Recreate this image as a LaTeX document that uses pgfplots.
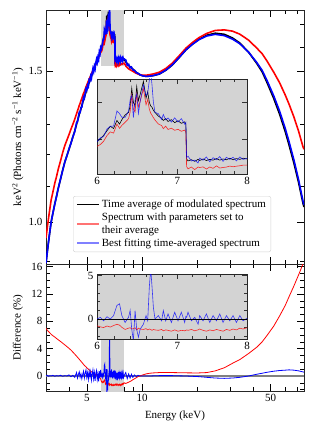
\documentclass[border=0pt]{standalone}
\usepackage{fontspec}
\setmainfont{Liberation Serif}
\usepackage{pgfplots}
\usepackage{pgfplotstable}
\pgfplotsset{compat=1.18}
\pgfplotsset{legend image code/.code={\draw[#1] (0pt,0pt) -- (22pt,0pt);}}
\definecolor{lgray}{HTML}{D3D3D3}

\pgfplotstableread{
E k dr db
3.00 0.895 7.0 0.0
3.05 0.923 6.7 0.1
3.10 0.950 6.5 -0.05
3.15 0.975 6.3 0.05
3.20 1.000 6.1 0.0
3.27 1.023 5.9 0.1
3.35 1.050 5.7 -0.05
3.42 1.070 5.5 0.05
3.50 1.095 5.3 0.0
3.60 1.122 5.05 0.1
3.70 1.150 4.8 -0.05
3.80 1.175 4.55 0.05
3.90 1.195 4.3 0.0
4.00 1.215 4.05 0.15
4.10 1.236 3.8 -0.1
4.20 1.256 3.5 0.1
4.30 1.277 3.2 -0.2
4.40 1.300 2.9 0.5
4.45 1.312 2.75 -0.3
4.50 1.323 2.6 0.2
4.55 1.335 2.45 0.6
4.60 1.345 2.3 -0.2
4.65 1.356 2.15 0.3
4.70 1.367 2.0 -0.4
4.75 1.378 1.85 0.2
4.80 1.389 1.7 0.7
4.85 1.398 1.55 -0.3
4.90 1.408 1.45 0.4
4.95 1.418 1.35 0.9
5.00 1.428 1.2 -0.2
5.05 1.437 1.1 0.5
5.10 1.446 1.0 -0.5
5.15 1.455 0.9 0.7
5.20 1.463 0.8 -0.1
5.25 1.471 0.7 0.6
5.30 1.480 0.62 -0.6
5.35 1.488 0.55 0.3
5.40 1.496 0.47 0.9
5.45 1.504 0.4 -0.4
5.50 1.512 0.33 0.5
5.55 1.520 0.25 -0.7
5.60 1.528 0.18 0.4
5.65 1.536 0.12 0.8
5.70 1.544 0.05 -0.5
5.75 1.552 -0.02 0.3
5.80 1.560 -0.1 -0.8
5.85 1.568 -0.2 0.7
5.90 1.576 -0.3 -0.3
5.95 1.585 -0.45 0.9
6.000 1.593 -0.78 0.0
6.039 1.600 -0.90 0.2
6.077 1.610 -0.98 -0.2
6.116 1.622 -0.80 0.27
6.155 1.634 -0.92 0.0
6.194 1.628 -0.75 0.4
6.234 1.650 -0.60 1.57
6.265 1.640 -0.70 1.76
6.293 1.652 -0.95 0.4
6.333 1.665 -1.20 -0.39
6.374 1.672 -1.05 0.2
6.394 1.690 -1.00 1.0
6.414 1.740 -1.15 -1.18
6.434 1.700 -1.10 -2.5
6.455 1.690 -1.00 0.98
6.475 1.745 -1.25 -1.2
6.496 1.705 -1.05 -2.1
6.517 1.722 -1.15 -1.18
6.559 1.760 -1.20 -0.59
6.592 1.712 -1.10 0.4
6.613 1.730 -1.25 -0.2
6.634 1.700 -1.15 3.73
6.651 1.690 -1.20 5.8
6.668 1.686 -1.30 3.73
6.685 1.678 -1.20 1.37
6.706 1.672 -1.25 0.0
6.749 1.662 -1.30 0.4
6.792 1.656 -1.20 -0.2
6.814 1.650 -1.35 0.98
6.845 1.655 -1.25 -0.2
6.876 1.647 -1.30 0.59
6.920 1.652 -1.40 -0.39
6.964 1.644 -1.25 0.79
7.009 1.649 -1.40 -0.2
7.054 1.642 -1.30 0.79
7.099 1.646 -1.35 -0.39
7.115 1.640 -1.30 0.3
7.125 1.548 -1.25 0.2
7.145 1.543 -1.30 0.79
7.191 1.546 -1.20 -0.2
7.237 1.542 -1.35 0.2
7.284 1.547 -1.25 -0.59
7.307 1.544 -1.15 0.4
7.354 1.548 -1.30 -0.2
7.401 1.544 -1.40 0.59
7.449 1.547 -1.25 -0.39
7.497 1.545 -1.35 0.4
7.545 1.549 -1.20 -0.2
7.594 1.545 -1.30 0.59
7.642 1.548 -1.40 -0.39
7.691 1.546 -1.20 0.4
7.741 1.550 -1.30 -0.2
7.790 1.546 -1.15 0.4
7.840 1.549 -1.25 -0.39
7.891 1.547 -1.05 0.4
7.941 1.550 -1.15 -0.2
8.000 1.548 -1.00 0.1
8.15 1.538 -1.1 0.5
8.30 1.530 -1.0 -0.4
8.45 1.523 -0.9 0.3
8.60 1.518 -0.8 -0.3
8.75 1.513 -0.7 0.25
8.90 1.508 -0.55 -0.2
9.10 1.501 -0.4 0.15
9.30 1.495 -0.25 -0.1
9.50 1.490 -0.1 0.1
9.70 1.486 0.0 0.0
10.0 1.482 0.12 0.0
10.5 1.479 0.3 0.0
11.0 1.480 0.4 0.0
11.5 1.482 0.45 0.02
12.4 1.488 0.5 0.05
13.5 1.504 0.5 0.05
14.6 1.525 0.5 0.05
16.0 1.558 0.48 0.02
17.3 1.588 0.46 0.0
18.8 1.613 0.45 -0.05
20.4 1.634 0.45 -0.1
22.5 1.652 0.5 -0.2
25.0 1.661 0.75 -0.3
28.0 1.656 1.2 -0.35
31.0 1.640 1.85 -0.3
34.0 1.618 2.4 -0.2
38.0 1.578 3.3 0.0
42.0 1.532 4.2 0.25
45.0 1.497 5.0 0.4
48.0 1.452 6.0 0.55
52.0 1.394 7.3 0.7
56.0 1.336 8.8 0.8
60.0 1.276 10.3 0.85
63.0 1.230 11.6 0.9
67.0 1.171 13.2 0.85
71.0 1.112 14.8 0.75
75.0 1.052 16.4 0.6
76.0 1.041 16.8 0.55
}\data

\begin{document}
\begin{tikzpicture}[font=\fontsize{11}{13}\selectfont]
\path[use as bounding box] (0,0) rectangle (314pt,432pt);
% ---------- top main panel
\begin{axis}[scale only axis, width=258pt, height=254pt, at={(46pt,168pt)}, anchor=south west,
  xmode=log, xmin=3, xmax=76, ymode=log, ymin=0.893, ymax=1.768,
  tick align=inside, major tick length=7pt, minor tick length=4pt,
  tick style={black, line width=0.5pt},
  axis line style={black!85, line width=0.6pt},
  tick label style={font=\fontsize{11}{13}\selectfont},
  xtick={5,10,50}, xticklabels={,,},
  minor xtick={3,4,6,7,8,9,20,30,40,60,70},
  ytick={1.0,1.5}, yticklabels={1.0,1.5},
  minor ytick={0.9,1.1,1.2,1.3,1.4,1.6,1.7},
  ylabel={keV\textsuperscript{2} (Photons cm\textsuperscript{−2} s\textsuperscript{−1} keV\textsuperscript{−1})},
  ylabel style={at={(axis description cs:-0.109,0.5)}, anchor=center},
  legend style={at={(0.105,0.047)}, anchor=south west, draw=black!18, rounded corners=2pt,
    fill=white, fill opacity=0.85, text opacity=1, inner xsep=3pt, inner ysep=2pt,
    row sep=-0.5pt, font=\fontsize{11}{13}\selectfont, cells={align=left}},
  legend cell align=left]
\addplot[draw=none, fill=lgray, forget plot] coordinates {(6,1.522) (8,1.522) (8,1.8) (6,1.8)} -- cycle;
\addplot[black, line width=1.6pt, forget plot] table[x=E, y=k] {\data};
\addplot[red, line width=1.6pt, forget plot] table[x=E, y expr=\thisrow{k}*(1+\thisrow{dr}/100)] {\data};
\addplot[blue, line width=1.6pt, forget plot] table[x=E, y expr=\thisrow{k}*(1+\thisrow{db}/100)] {\data};
\addlegendimage{black, line width=1pt}
\addlegendentry{Time average of modulated spectrum}
\addlegendimage{red!55, line width=1.6pt}
\addlegendentry{Spectrum with parameters set to\\their average}
\addlegendimage{blue!50, line width=1.6pt}
\addlegendentry{Best fitting time-averaged spectrum}
\end{axis}
% ---------- bottom main panel
\begin{axis}[scale only axis, width=258pt, height=127pt, at={(46pt,41pt)}, anchor=south west,
  xmode=log, xmin=3, xmax=76, ymin=-2.2, ymax=16.4,
  tick align=inside, major tick length=7pt, minor tick length=4pt,
  tick style={black, line width=0.5pt},
  axis line style={black!85, line width=0.6pt},
  tick label style={font=\fontsize{11}{13}\selectfont},
  xtick={5,10,50}, xticklabels={5,10,50},
  minor xtick={3,4,6,7,8,9,20,30,40,60,70},
  ytick={0,4,8,12,16}, yticklabels={0,4,8,12,16},
  minor ytick={-2,-1,1,2,3,5,6,7,9,10,11,13,14,15},
  xlabel={Energy (keV)},
  xlabel style={at={(axis description cs:0.5,-0.197)}, anchor=center},
  ylabel={Difference (\%)},
  ylabel style={at={(axis description cs:-0.109,0.5)}, anchor=center}]
\addplot[draw=none, fill=lgray] coordinates {(6,-3) (8,-3) (8,10) (6,10)} -- cycle;
\addplot[gray, line width=1.6pt] coordinates {(3,0) (76,0)};
\addplot[red, line width=0.8pt] table[x=E, y=dr] {\data};
\addplot[blue, line width=0.8pt] table[x=E, y=db] {\data};
\end{axis}
% ---------- top inset
\begin{axis}[scale only axis, width=150pt, height=95pt, at={(97pt,258pt)}, anchor=south west,
  xmode=log, xmin=6, xmax=8, ymode=log, ymin=1.51, ymax=1.767,
  axis background/.style={fill=lgray},
  tick align=inside, major tick length=5pt, minor tick length=3pt,
  tick style={black!80, line width=0.5pt},
  axis line style={black!85, line width=0.6pt},
  tick label style={font=\fontsize{11}{13}\selectfont},
  xtick={6,7,8}, xticklabels={6,7,8},
  minor xtick={6.2,6.4,6.6,6.8,7.2,7.4,7.6,7.8},
  ytick={1.6,1.7}, yticklabels={,}]
\addplot[black, line width=0.6pt] table[x=E, y=k] {\data};
\addplot[red, line width=0.6pt, opacity=0.8] table[x=E, y expr=\thisrow{k}*(1+\thisrow{dr}/100)] {\data};
\addplot[blue, line width=0.6pt, opacity=0.75] table[x=E, y expr=\thisrow{k}*(1+\thisrow{db}/100)] {\data};
\end{axis}
% ---------- bottom inset
\begin{axis}[scale only axis, width=150pt, height=65pt, at={(97pt,93pt)}, anchor=south west,
  xmode=log, xmin=6, xmax=8, ymin=-2.3, ymax=5.2,
  axis background/.style={fill=lgray},
  tick align=inside, major tick length=5pt, minor tick length=3pt,
  tick style={black!80, line width=0.5pt},
  axis line style={black!85, line width=0.6pt},
  tick label style={font=\fontsize{11}{13}\selectfont},
  xtick={6,7,8}, xticklabels={6,7,8},
  minor xtick={6.2,6.4,6.6,6.8,7.2,7.4,7.6,7.8},
  ytick={0,5}, yticklabels={0,5}, minor ytick={-2,-1,1,2,3,4}]
\addplot[red, line width=0.6pt, opacity=0.8] table[x=E, y=dr] {\data};
\addplot[blue, line width=0.6pt, opacity=0.75] table[x=E, y=db] {\data};
\addplot[black, line width=0.7pt] coordinates {(6,0) (8,0)};
\end{axis}
\end{tikzpicture}
\end{document}
